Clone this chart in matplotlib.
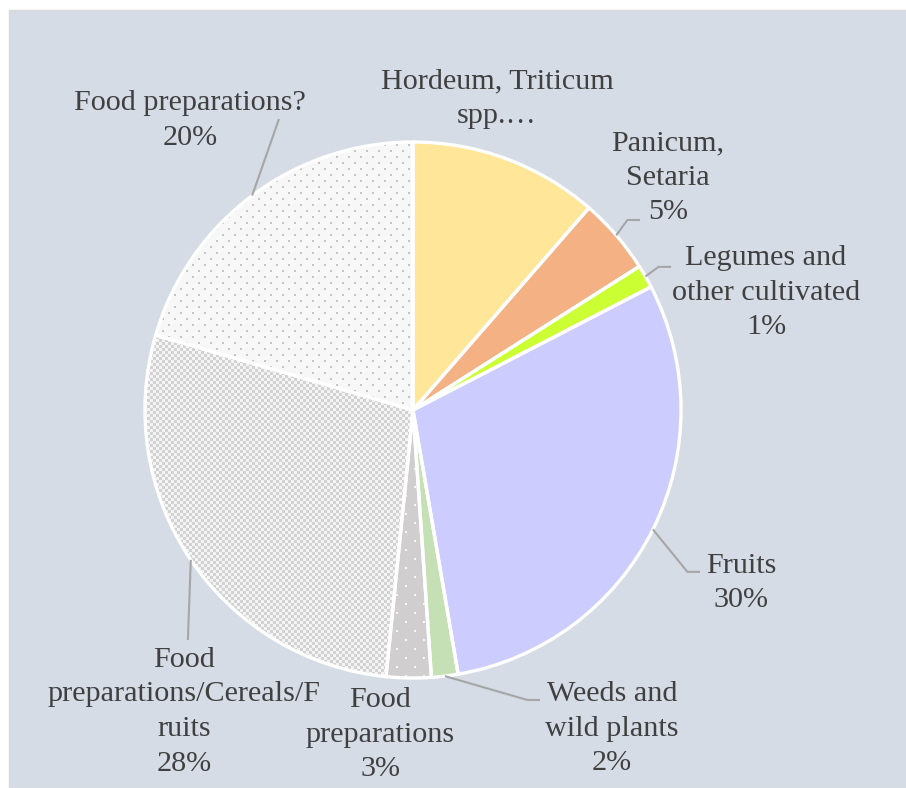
import numpy as np
import matplotlib
matplotlib.use("Agg")
import matplotlib.pyplot as plt
from matplotlib.patches import Rectangle
from matplotlib.colors import to_rgb

# ---------------- data ----------------
categories = ["Hordeum, Triticum\nspp.…", "Panicum,\nSetaria", "Legumes and\nother cultivated",
              "Fruits", "Weeds and\nwild plants", "Food\npreparations",
              "Food\npreparations/Cereals/F\nruits", "Food preparations?"]
values = [11.4, 4.6, 1.4, 29.9, 1.6, 2.7, 27.9, 20.49]
show_pct = [False, True, True, True, True, True, True, True]

# ---------------- style / layout ----------------
colors = ["#FFE699", "#F4B183", "#CCFF33", "#CCCCFF", "#C5E0B4", "#D0CECE", "#E0E0E0", "#F4F4F4"]
patterns = [None, None, None, None, None, "dots_white", "checker", "dots_gray"]
label_pos = [(0.313, 1.160), (0.951, 0.867), (1.317, 0.437), (1.224, -0.645),
             (0.743, -1.189), (-0.123, -1.212), (-0.854, -1.126), (-0.832, 1.080)]
leader_end = [None, (0.847, 0.709), (0.963, 0.534), (1.071, -0.604),
              (0.474, -1.082), None, (-0.840, -0.858), (-0.50, 1.086)]
leader_elbow = [False, True, True, True, True, False, False, False]

W, H, DPI = 906, 788, 100
R_PX = 268.0
CX, CY = 413.0, 410.0
x0, x1 = -CX / R_PX, (W - CX) / R_PX
y0, y1 = -(H - CY) / R_PX, CY / R_PX

fig = plt.figure(figsize=(W / DPI, H / DPI), dpi=DPI, facecolor="white")
ax = fig.add_axes([0, 0, 1, 1])
ax.set_facecolor("none")
ax.set_axis_off()
ax.add_patch(Rectangle((9 / W, 0), 1, (H - 10) / H, transform=fig.transFigure,
                       facecolor="#D6DCE5", edgecolor="#D9D9D9", lw=1.0, zorder=0))

wedges, _ = ax.pie(values, startangle=90, counterclock=False, radius=1.0,
                   colors=colors, wedgeprops=dict(edgecolor="white", linewidth=0, zorder=1))

# textures
yy, xx = np.mgrid[0:H, 0:W]
def tex(kind):
    img = np.ones((H, W, 3))
    if kind == "dots_white":
        base, dot = to_rgb("#D0CECE"), to_rgb("#F6F6F6")
        img[:] = base
        row = yy // 9
        m = (yy % 9 < 2) & (((xx + (row % 2) * 9) % 18) < 2)
        img[m] = dot
    elif kind == "checker":
        a, b = to_rgb("#D2D2D2"), to_rgb("#F4F4F4")
        m = ((xx // 3) + (yy // 3)) % 2 == 0
        img[:] = b
        img[m] = a
    elif kind == "dots_gray":
        base, dot = to_rgb("#F7F7F7"), to_rgb("#C4C4C4")
        img[:] = base
        row = yy // 6
        m = (yy % 6 < 2) & (((xx + (row % 2) * 6) % 12) < 2)
        img[m] = dot
    return img

for w, p in zip(wedges, patterns):
    if p is None:
        continue
    im = ax.imshow(tex(p), extent=(x0, x1, y0, y1), origin="upper",
                   interpolation="nearest", aspect="auto", zorder=1.5)
    im.set_clip_path(w)

# white separators on top
ax.pie(values, startangle=90, counterclock=False, radius=1.0,
       colors=["none"] * len(values),
       wedgeprops=dict(edgecolor="white", linewidth=2.4, zorder=3))

ax.set_xlim(x0, x1)
ax.set_ylim(y0, y1)

total = sum(values)
start = 90.0
for i, (w, v) in enumerate(zip(wedges, values)):
    span = 360.0 * v / total
    mid = np.deg2rad(start - span / 2)
    start -= span
    txt = categories[i]
    if show_pct[i]:
        txt += f"\n{round(100 * v / total)}%"
    lx, ly = label_pos[i]
    ax.text(lx, ly, txt, ha="center", va="center", fontsize=21.7,
            family="Liberation Serif", color="#404040", linespacing=1.43, zorder=5)
    if leader_end[i] is not None:
        sx, sy = np.cos(mid), np.sin(mid)
        ex, ey = leader_end[i]
        if leader_elbow[i]:
            xs = [sx, ex - 0.047 * np.sign(ex), ex]
            ys = [sy, ey, ey]
        else:
            xs, ys = [sx, ex], [sy, ey]
        ax.plot(xs, ys, color="#A6A6A6", lw=1.5, zorder=4, solid_capstyle="butt")

fig.savefig("out.png", dpi=DPI, facecolor="white")
